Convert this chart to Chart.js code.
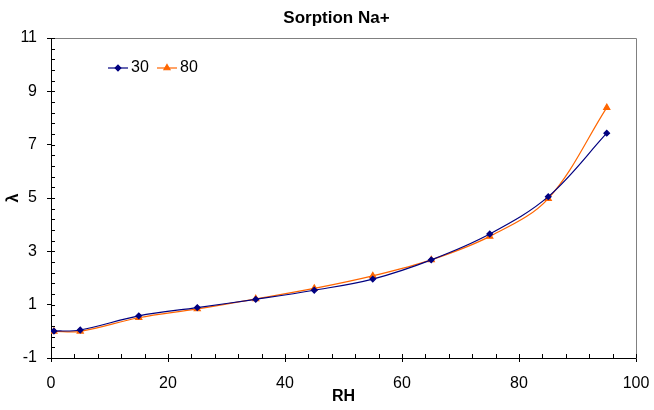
<!DOCTYPE html>
<html>
<head>
<meta charset="utf-8">
<script src="https://cdn.jsdelivr.net/npm/chart.js@4"></script>
<style>
    html, body { margin: 0; padding: 0; background: #fff; }
    canvas { display: block; }
</style>
</head>
<body>
<canvas id="sorptionChart" width="654" height="410"></canvas>
<script>
// RH values and sorption (lambda) for the two series
const rh = [0.5, 5, 15, 25, 35, 45, 55, 65, 75, 85, 95];
const lambda30 = [0.01, 0.05, 0.58, 0.89, 1.2, 1.54, 1.96, 2.68, 3.65, 5.05, 7.43];
const lambda80 = [0.0, 0.0, 0.51, 0.84, 1.22, 1.61, 2.08, 2.68, 3.56, 4.98, 8.39];
const seriesLabels = ['30', '80'];
const chartTitle = 'Sorption Na+';

const FONT = 'Arial, "Liberation Sans", sans-serif';

function toPoints(xs, ys) {
    return xs.map((x, i) => ({ x: x, y: ys[i] }));
}

// frame, minor ticks, title and the in-plot legend
const extras = {
    id: 'extras',
    beforeDatasetsDraw(chart) {
        const { ctx, chartArea: a, scales } = chart;
        ctx.save();
        ctx.strokeStyle = '#808080';
        ctx.lineWidth = 1;
        ctx.beginPath();
        ctx.moveTo(Math.round(a.left) + 0.5, Math.round(a.top) + 0.5);
        ctx.lineTo(Math.round(a.right) + 0.5, Math.round(a.top) + 0.5);
        ctx.lineTo(Math.round(a.right) + 0.5, Math.round(a.bottom) + 0.5);
        ctx.stroke();

        ctx.strokeStyle = '#000';
        ctx.beginPath();
        const x = scales.x, y = scales.y;
        for (let v = x.min; v <= x.max + 1e-9; v += 4) {
            const px = Math.round(x.getPixelForValue(v)) + 0.5;
            ctx.moveTo(px, a.bottom);
            ctx.lineTo(px, a.bottom - 4);
        }
        for (let v = y.min; v <= y.max + 1e-9; v += 0.4) {
            const py = Math.round(y.getPixelForValue(v)) + 0.5;
            ctx.moveTo(a.left, py);
            ctx.lineTo(a.left + 4, py);
        }
        ctx.stroke();
        ctx.restore();
    },
    afterDraw(chart) {
        const { ctx, chartArea: a } = chart;
        ctx.save();
        ctx.fillStyle = '#000';
        ctx.font = 'bold 17px ' + FONT;
        ctx.textAlign = 'center';
        ctx.textBaseline = 'middle';
        ctx.fillText(chartTitle, 336.5, 18);

        // legend
        let lx = a.left + 57;
        const ly = a.top + 30;
        ctx.font = '16px ' + FONT;
        ctx.textAlign = 'left';
        chart.data.datasets.forEach(ds => {
            ctx.strokeStyle = ds.borderColor;
            ctx.fillStyle = ds.pointBackgroundColor;
            ctx.lineWidth = 1.2;
            ctx.beginPath();
            ctx.moveTo(lx, ly);
            ctx.lineTo(lx + 20, ly);
            ctx.stroke();
            Chart.helpers.drawPoint(ctx, {
                pointStyle: ds.pointStyle,
                radius: ds.pointRadius,
                rotation: 0,
                borderWidth: 1
            }, lx + 10, ly);
            ctx.fillStyle = '#000';
            ctx.fillText(ds.label, lx + 23, ly);
            lx += 49;
        });
        ctx.restore();
    }
};

const ctx = document.getElementById('sorptionChart').getContext('2d');
new Chart(ctx, {
    type: 'line',
    data: {
        datasets: [{
            label: seriesLabels[0],
            data: toPoints(rh, lambda30),
            borderColor: '#000080',
            backgroundColor: '#000080',
            pointBackgroundColor: '#000080',
            pointBorderColor: '#000080',
            pointStyle: 'rectRot',
            pointRadius: 2.8,
            borderWidth: 1.2,
            tension: 0.35,
            fill: false
        }, {
            label: seriesLabels[1],
            data: toPoints(rh, lambda80),
            borderColor: '#FF6600',
            backgroundColor: '#FF6600',
            pointBackgroundColor: '#FF6600',
            pointBorderColor: '#FF6600',
            pointStyle: 'triangle',
            pointRadius: 3.5,
            borderWidth: 1.2,
            tension: 0.35,
            fill: false
        }]
    },
    options: {
        responsive: false,
        animation: false,
        layout: { padding: { top: 38, right: 18, bottom: 0, left: 0 } },
        plugins: {
            legend: { display: false },
            title: { display: false },
            tooltip: { enabled: false }
        },
        scales: {
            x: {
                type: 'linear',
                min: 0,
                max: 100,
                afterFit(scale) {
                    scale.height = 52;
                    scale.paddingLeft = 0;
                    scale.paddingRight = 0;
                },
                ticks: { stepSize: 20, color: '#000', padding: 12, font: { family: FONT, size: 16 } },
                grid: { drawOnChartArea: false, drawTicks: true, tickLength: 4, color: '#000' },
                border: { color: '#000', width: 1 },
                title: { display: true, text: 'RH', color: '#000', padding: { top: 0, bottom: 4 }, font: { family: FONT, size: 16, weight: 'bold' } }
            },
            y: {
                min: -1,
                max: 11,
                afterFit(scale) { scale.width = 51; },
                ticks: { stepSize: 2, color: '#000', padding: 10, font: { family: FONT, size: 16 } },
                grid: { drawOnChartArea: false, drawTicks: true, tickLength: 4, color: '#000' },
                border: { color: '#000', width: 1 },
                title: { display: true, text: 'λ', color: '#000', padding: { top: 4, bottom: 0 }, font: { family: FONT, size: 16, weight: 'bold' } }
            }
        }
    },
    plugins: [extras]
});
</script>
</body>
</html>
